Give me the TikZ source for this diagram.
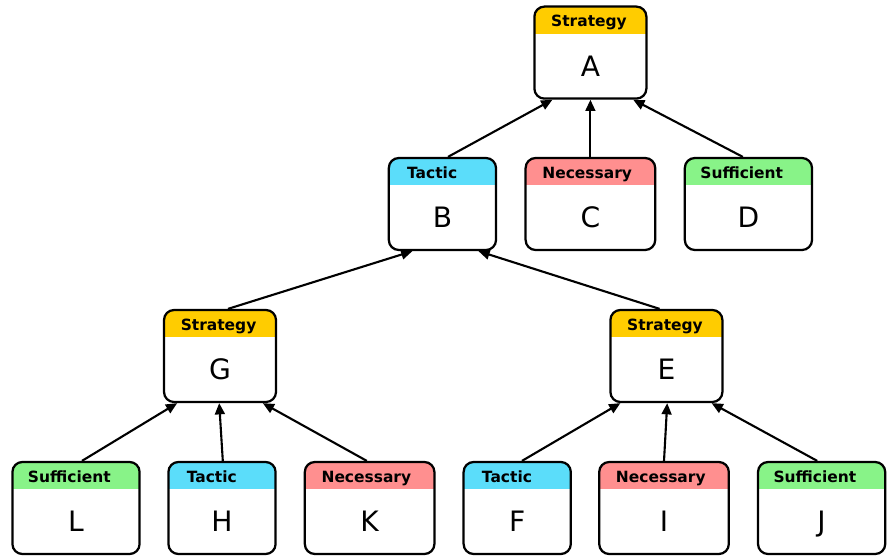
\documentclass[tikz,border=0pt]{standalone}
\usepackage{fontspec}
\setmainfont{DejaVu Sans}
\usepackage{tikz}
\usetikzlibrary{arrows.meta,calc}

\definecolor{strategyc}{RGB}{255,204,0}
\definecolor{tacticc}{RGB}{91,221,250}
\definecolor{necessaryc}{RGB}{255,143,143}
\definecolor{sufficientc}{RGB}{136,243,136}

\begin{document}
\begin{tikzpicture}[
    >={Triangle[length=8pt,width=7pt]},
    card/.style={
        rectangle,
        rounded corners=0.25cm,
        draw=black,
        line width=1.6pt,
        fill=white,
        minimum height=2.3cm,
        font=\fontsize{20}{24}\selectfont,
        text height=1.18cm,
        text depth=0pt,
        path picture={
            \fill[#1,sharp corners] (path picture bounding box.north west)
                rectangle ([yshift=-0.675cm]path picture bounding box.north east);
        }
    },
    hdr/.style={
        anchor=base west,
        inner sep=0pt,
        xshift=0.44cm,
        yshift=-0.53cm,
        font=\fontsize{11}{12}\selectfont\bfseries
    },
    strategy/.style={card=strategyc,   minimum width=2.8cm,  label={[hdr]north west:Strategy}},
    tactic/.style={card=tacticc,       minimum width=2.68cm, label={[hdr,xshift=0.04cm]north west:Tactic}},
    necessary/.style={card=necessaryc, minimum width=3.24cm, label={[hdr]north west:Necessary}},
    sufficient/.style={card=sufficientc, minimum width=3.18cm, label={[hdr,xshift=-0.03cm]north west:Sufficient}},
    link/.style={->,line width=1.5pt}
]

\useasboundingbox (0,0) rectangle (22.175,13.875);

% Top level
\node[strategy]   (A) at (14.76,12.56) {A};

% Second row
\node[tactic]     (B) at (11.06,8.775) {B};
\node[necessary]  (C) at (14.76,8.775) {C};
\node[sufficient] (D) at (18.71,8.775) {D};
\draw[link] ($(B.north)+(0.14,0)$)  -- ($(A.south)+(-0.95,0)$);
\draw[link] (C.north)               -- (A.south);
\draw[link] ($(D.north)+(-0.14,0)$) -- ($(A.south)+(1.07,0)$);

% Third row
\node[strategy]   (G) at (5.5,4.975)   {G};
\node[strategy]   (E) at (16.66,4.975) {E};
\draw[link] ($(G.north)+(0.2,0)$)   -- ($(B.south)+(-0.75,0)$);
\draw[link] ($(E.north)+(-0.17,0)$) -- ($(B.south)+(0.9,0)$);

% Bottom row under G
\node[sufficient] (L) at (1.9,1.175)  {L};
\node[tactic]     (H) at (5.55,1.175) {H};
\node[necessary]  (K) at (9.24,1.175) {K};
\draw[link] ($(L.north)+(0.15,0)$)  -- ($(G.south)+(-1.07,0)$);
\draw[link] ($(H.north)+(0.02,0)$)  -- ($(G.south)+(-0.02,0)$);
\draw[link] ($(K.north)+(-0.07,0)$) -- ($(G.south)+(1.07,0)$);

% Bottom row under E
\node[tactic]     (F) at (12.93,1.175) {F};
\node[necessary]  (I) at (16.6,1.175)  {I};
\node[sufficient] (J) at (20.54,1.175) {J};
\draw[link] ($(F.north)+(0.12,0)$)  -- ($(E.south)+(-1.15,0)$);
\draw[link] (I.north)               -- ($(E.south)+(0.02,0)$);
\draw[link] ($(J.north)+(-0.11,0)$) -- ($(E.south)+(1.13,0)$);

\end{tikzpicture}
\end{document}
